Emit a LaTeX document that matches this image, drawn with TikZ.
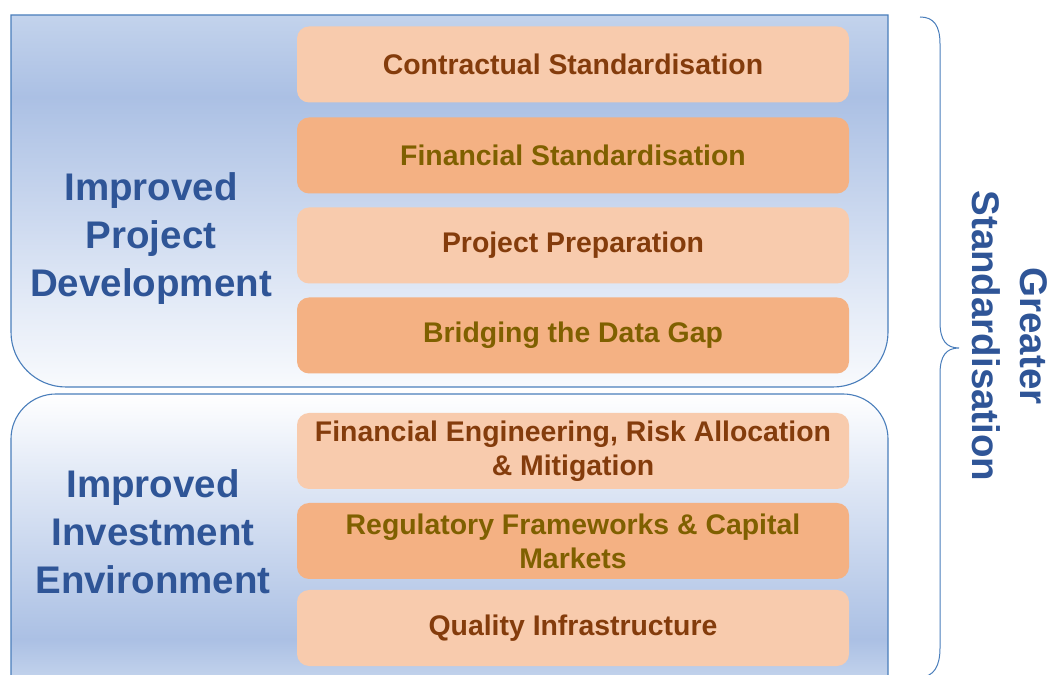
\documentclass[tikz,border=0pt]{standalone}
\usepackage{fontspec}
\setmainfont{Liberation Sans}

\definecolor{panelline}{HTML}{4A7EBB}
\definecolor{paneldark}{HTML}{ABC0E4}
\definecolor{paneltop}{HTML}{C3D3EC}
\definecolor{panelmid}{HTML}{E4EBF7}
\definecolor{panellight}{HTML}{F8FAFD}
\definecolor{labelblue}{HTML}{2F5597}
\definecolor{boxlight}{HTML}{F8CBAD}
\definecolor{boxdark}{HTML}{F4B183}
\definecolor{textbrown}{HTML}{843C0C}
\definecolor{textolive}{HTML}{7F6000}

\pgfdeclareverticalshading{devshade}{100bp}{color(0bp)=(panellight); color(25bp)=(panellight);
  color(36bp)=(panelmid); color(64bp)=(paneldark); color(75bp)=(paneltop); color(100bp)=(paneltop)}
\pgfdeclareverticalshading{envshade}{100bp}{color(0bp)=(paneltop); color(25bp)=(paneltop);
  color(32bp)=(paneldark); color(62bp)=(panelmid); color(75bp)=(white); color(100bp)=(white)}

\begin{document}
\begin{tikzpicture}[x=1pt,y=1pt,
    panel/.style={draw=panelline,line width=1.1pt},
    item/.style={rounded corners=12pt,minimum width=552pt,minimum height=76pt,
      inner sep=0pt,align=center,font=\fontsize{28.4}{34}\selectfont\bfseries},
    itemlight/.style={item,fill=boxlight,text=textbrown},
    itemdark/.style={item,fill=boxdark,text=textolive},
    biglabel/.style={align=center,text=labelblue,font=\fontsize{38.5}{48}\selectfont\bfseries}]
  \useasboundingbox (0,0) rectangle (1051,674);

  % the two panels
  \path[panel,shading=devshade] (11,659) -- (888,659) -- (888,342)
    arc[start angle=0,end angle=-90,radius=55] -- (66,287)
    arc[start angle=270,end angle=180,radius=55] -- cycle;
  \path[panel,shading=envshade] (11,-5) -- (11,235)
    arc[start angle=180,end angle=90,radius=45] -- (843,280)
    arc[start angle=90,end angle=0,radius=45] -- (888,-5) -- cycle;

  \node[biglabel] (dev) at (151,435) {Improved\\Project\\Development};
  \node[biglabel] (env) at (153,142) {Improved\\Investment\\Environment};

  % items
  \node[itemlight] (cs) at (573,609.5) {Contractual Standardisation};
  \node[itemdark]  (fs) at (573,518.5) {Financial Standardisation};
  \node[itemlight] (pp) at (573,428.5) {Project Preparation};
  \node[itemdark]  (dg) at (573,338.5) {Bridging the Data Gap};
  \node[itemlight] (fe) at (573,223) {Financial Engineering, Risk Allocation\\\& Mitigation};
  \node[itemdark]  (rf) at (573,133) {Regulatory Frameworks \& Capital\\Markets};
  \node[itemlight] (qi) at (573,46) {Quality Infrastructure};

  % brace
  \draw[panelline,line width=1pt] (920,657) .. controls (934,657) and (940,648) .. (940,630)
    -- (940,352) .. controls (940,334) and (946,326) .. (959,326)
    .. controls (946,326) and (940,318) .. (940,300)
    -- (940,26) .. controls (940,8) and (934,-3) .. (920,-3);
  \node[biglabel,rotate=-90] (std) at (1010,338) {Greater\\Standardisation};
\end{tikzpicture}
\end{document}
